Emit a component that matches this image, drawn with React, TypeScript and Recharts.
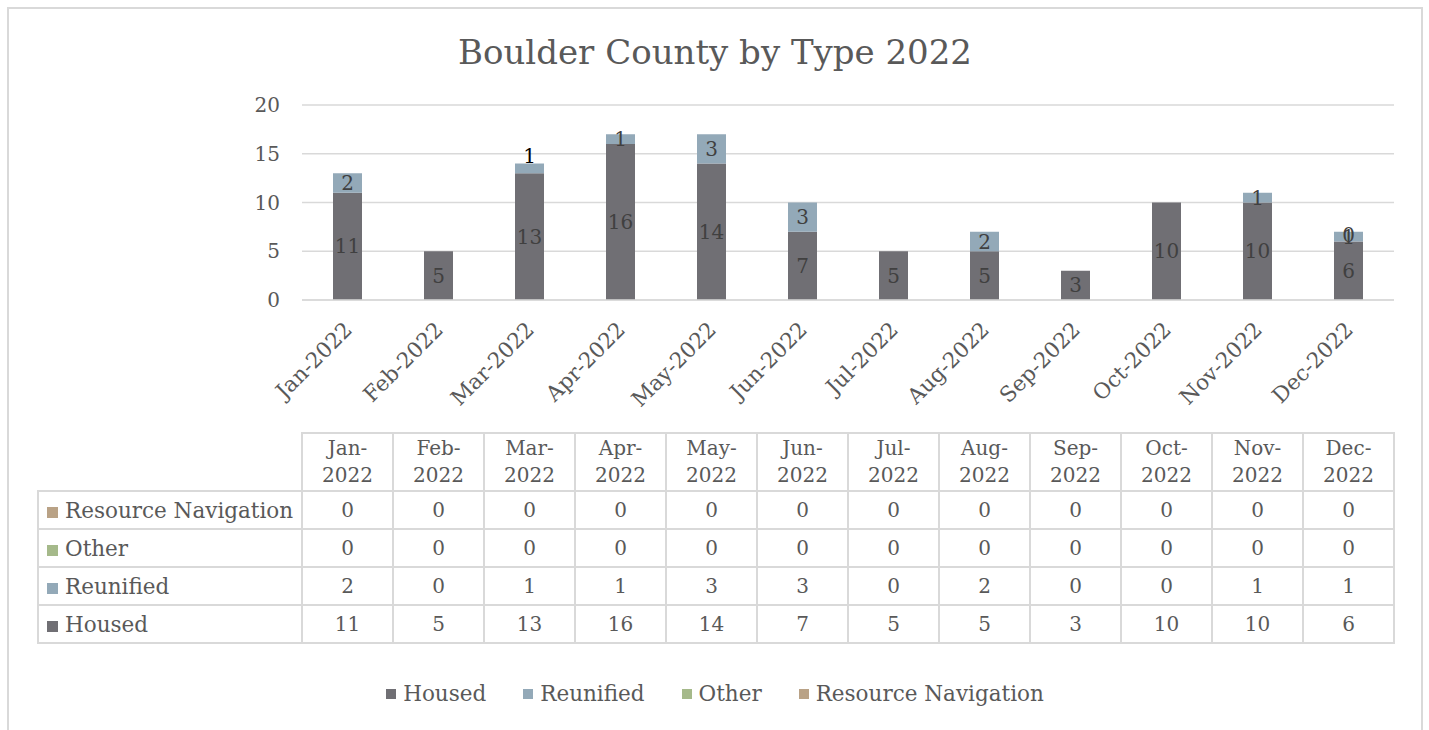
import React from 'react';
import { BarChart, Bar, XAxis, YAxis, CartesianGrid, LabelList } from 'recharts';

const months = [
  'Jan-2022', 'Feb-2022', 'Mar-2022', 'Apr-2022', 'May-2022', 'Jun-2022',
  'Jul-2022', 'Aug-2022', 'Sep-2022', 'Oct-2022', 'Nov-2022', 'Dec-2022',
];
const housed = [11, 5, 13, 16, 14, 7, 5, 5, 3, 10, 10, 6];
const reunified = [2, 0, 1, 1, 3, 3, 0, 2, 0, 0, 1, 1];
const other = [0, 0, 0, 0, 0, 0, 0, 0, 0, 0, 0, 0];
const resourceNav = [0, 0, 0, 0, 0, 0, 0, 0, 0, 0, 0, 0];
const yTicks = [0, 5, 10, 15, 20];

const series = [
  { key: 'housed', name: 'Housed', color: '#706f74', values: housed },
  { key: 'reunified', name: 'Reunified', color: '#93a9b8', values: reunified },
  { key: 'other', name: 'Other', color: '#a5b98a', values: other },
  { key: 'resourceNav', name: 'Resource Navigation', color: '#b9a286', values: resourceNav },
];

const chartData = months.map((m, i) => ({
  month: m,
  housed: housed[i],
  reunified: reunified[i],
  other: other[i],
  resourceNav: resourceNav[i],
}));

const FONT = '"DejaVu Serif", serif';
const TEXT = '#595959';
const GRID = '#d9d9d9';
const WORD_SIZE = 21.5;

function MonthTick(props: any) {
  const { x, y, payload } = props;
  const ax = x + 6;
  const ay = y + 31;
  return (
    <text
      x={ax}
      y={ay}
      textAnchor="end"
      fill={TEXT}
      fontSize={WORD_SIZE}
      fontFamily={FONT}
      transform={`rotate(-45, ${ax}, ${ay})`}
    >
      {payload.value}
    </text>
  );
}

const labelText = (cx: number, cy: number, v: number, fill = '#404040') => (
  <text x={cx} y={cy} textAnchor="middle" dominantBaseline="central"
    fill={fill} fontSize={20} fontFamily={FONT}>
    {v}
  </text>
);

// labels inside the stacks; zero values are hidden like in the excel sheet
const housedLabel = (props: any) => {
  const { x, y, width, height, value } = props;
  const i = months.indexOf(value);
  if (!housed[i]) return null;
  return labelText(x + width / 2, y + height / 2, housed[i]);
};

const reunifiedLabel = (props: any) => {
  const { x, y, width, height, value } = props;
  const i = months.indexOf(value);
  if (!reunified[i]) return null;
  const cx = x + width / 2;
  // Mar label got pushed above the bar
  if (value === 'Mar-2022') return labelText(cx, y - 8, reunified[i], '#000');
  // Dec also shows the zero "Other" label on top of the stack
  if (value === 'Dec-2022') {
    return (
      <g>
        {labelText(cx, y + height / 2, reunified[i])}
        {labelText(cx, y + 3, other[i])}
      </g>
    );
  }
  return labelText(cx, y + height / 2, reunified[i]);
};

const cell: React.CSSProperties = {
  border: `2px solid ${GRID}`,
  textAlign: 'center',
  padding: 0,
  color: TEXT,
  fontSize: 20,
};

export default function App() {
  const tableRows = [...series].reverse();
  return (
    <div
      style={{
        position: 'absolute',
        left: 7,
        top: 7,
        width: 1412,
        height: 740,
        border: `2px solid ${GRID}`,
        background: '#fff',
        fontFamily: FONT,
      }}
    >
      <div
        style={{
          position: 'absolute',
          left: 0,
          width: 1412,
          top: 23,
          textAlign: 'center',
          fontSize: 34,
          color: TEXT,
        }}
      >
        Boulder County by Type 2022
      </div>

      <BarChart
        width={1412}
        height={426}
        data={chartData}
        margin={{ top: 96, right: 27, left: 0, bottom: 0 }}
        barSize={29}
      >
        <CartesianGrid vertical={false} stroke={GRID} strokeWidth={1.5} />
        <XAxis
          dataKey="month"
          axisLine={{ stroke: GRID, strokeWidth: 1.5 }}
          tickLine={false}
          tickSize={0}
          tickMargin={0}
          height={135}
          interval={0}
          tick={<MonthTick />}
        />
        <YAxis
          width={293}
          domain={[0, 20]}
          ticks={yTicks}
          axisLine={false}
          tickLine={false}
          tickSize={0}
          tickMargin={22}
          tick={{ fill: TEXT, fontSize: 20, fontFamily: FONT }}
        />
        <Bar dataKey="housed" stackId="a" fill={series[0].color} isAnimationActive={false}>
          <LabelList dataKey="month" content={housedLabel} />
        </Bar>
        <Bar dataKey="reunified" stackId="a" fill={series[1].color} isAnimationActive={false}>
          <LabelList dataKey="month" content={reunifiedLabel} />
        </Bar>
        <Bar dataKey="other" stackId="a" fill={series[2].color} isAnimationActive={false} />
        <Bar dataKey="resourceNav" stackId="a" fill={series[3].color} isAnimationActive={false} />
      </BarChart>

      <table
        style={{
          position: 'absolute',
          left: 28,
          top: 423,
          borderCollapse: 'collapse',
          tableLayout: 'fixed',
          width: 264 + 91 * 12,
          fontFamily: FONT,
        }}
      >
        <colgroup>
          <col style={{ width: 264 }} />
          {months.map((m) => (
            <col key={m} style={{ width: 91 }} />
          ))}
        </colgroup>
        <tbody>
          <tr style={{ height: 58 }}>
            <td style={{ border: 'none' }} />
            {months.map((m) => {
              const [mo, yr] = m.split('-');
              return (
                <td key={m} style={{ ...cell, lineHeight: '27px' }}>
                  {mo}-<br />
                  {yr}
                </td>
              );
            })}
          </tr>
          {tableRows.map((s) => (
            <tr key={s.key} style={{ height: 38 }}>
              <td
                style={{
                  ...cell,
                  fontSize: WORD_SIZE,
                  textAlign: 'left',
                  whiteSpace: 'nowrap',
                  paddingLeft: 8,
                }}
              >
                <span
                  style={{
                    display: 'inline-block',
                    width: 11,
                    height: 11,
                    background: s.color,
                    marginRight: 7,
                  }}
                />
                {s.name}
              </td>
              {s.values.map((v, i) => (
                <td key={i} style={cell}>
                  {v}
                </td>
              ))}
            </tr>
          ))}
        </tbody>
      </table>

      <div
        style={{
          position: 'absolute',
          top: 672,
          left: 0,
          width: 1412,
          display: 'flex',
          justifyContent: 'center',
          gap: 37,
          fontSize: WORD_SIZE,
          color: TEXT,
        }}
      >
        {series.map((s) => (
          <div key={s.key} style={{ display: 'flex', alignItems: 'center' }}>
            <span
              style={{ display: 'inline-block', width: 10, height: 10, background: s.color, marginRight: 7 }}
            />
            {s.name}
          </div>
        ))}
      </div>
    </div>
  );
}
